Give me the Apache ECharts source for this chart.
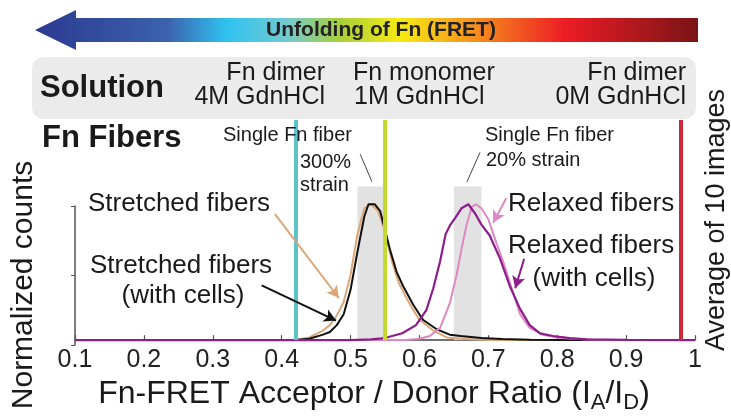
<!DOCTYPE html>
<html lang="en">
  <head>
    <meta charset="utf-8" />
    <script src="https://cdn.jsdelivr.net/npm/echarts@6.0.0/dist/echarts.min.js"></script>
  </head>
  <body style="margin: 0; background: #fff">
    <div id="container" style="width: 731px; height: 419px"></div>
    <script type="text/javascript">
      // Stretched fibers (tan) and stretched fibers with cells (black)
      const stretchedX = [0.10, 0.42, 0.44, 0.46, 0.47, 0.48, 0.49, 0.50, 0.51, 0.52, 0.53, 0.54, 0.55, 0.56, 0.57, 0.58, 0.59, 0.60, 0.62, 0.64, 0.66, 0.70, 1.00];
      const stretchedY = [0, 0, 0.02, 0.07, 0.11, 0.18, 0.28, 0.48, 0.78, 0.97, 1.0, 0.95, 0.80, 0.58, 0.42, 0.32, 0.23, 0.15, 0.07, 0.02, 0.01, 0, 0];
      const stretchedCellsX = [0.10, 0.42, 0.44, 0.46, 0.47, 0.48, 0.49, 0.50, 0.51, 0.52, 0.526, 0.535, 0.543, 0.55, 0.557, 0.567, 0.576, 0.591, 0.605, 0.625, 0.644, 0.66, 0.69, 0.72, 0.76, 0.80, 1.00];
      const stretchedCellsY = [0, 0, 0.01, 0.04, 0.06, 0.11, 0.19, 0.37, 0.65, 0.91, 1.0, 1.0, 0.95, 0.81, 0.67, 0.50, 0.40, 0.26, 0.15, 0.08, 0.04, 0.03, 0.015, 0.008, 0.003, 0, 0];

      // Relaxed fibers (pink) and relaxed fibers with cells (purple)
      const relaxedX = [0.10, 0.58, 0.60, 0.615, 0.63, 0.644, 0.654, 0.661, 0.669, 0.676, 0.682, 0.69, 0.70, 0.71, 0.722, 0.734, 0.746, 0.76, 0.779, 0.804, 0.85, 0.90, 1.00];
      const relaxedY = [0, 0, 0.01, 0.03, 0.09, 0.27, 0.48, 0.67, 0.86, 0.98, 1.0, 0.97, 0.89, 0.74, 0.57, 0.38, 0.19, 0.09, 0.04, 0.015, 0.003, 0, 0];
      const relaxedCellsX = [0.10, 0.50, 0.53, 0.55, 0.575, 0.595, 0.61, 0.62, 0.63, 0.638, 0.645, 0.652, 0.661, 0.671, 0.681, 0.69, 0.702, 0.717, 0.731, 0.746, 0.76, 0.775, 0.794, 0.818, 0.843, 0.90, 1.00];
      const relaxedCellsY = [0, 0, 0.005, 0.015, 0.05, 0.11, 0.22, 0.38, 0.58, 0.78, 0.85, 0.90, 0.97, 1.0, 0.93, 0.85, 0.77, 0.60, 0.40, 0.23, 0.11, 0.05, 0.03, 0.015, 0.005, 0.002, 0];

      // solution references (vertical lines) and single fiber ranges (gray bands)
      const solutionRatios = [0.42, 0.55, 0.98];
      const solutionColors = ["#5cc3cb", "#c3da2c", "#cc2a36"];
      const fiberBands = [[0.51, 0.55], [0.65, 0.69]];
      const fiberBandTop = 1.13;

      const font = "Liberation Sans, Arial, sans-serif";
      const xy = (xs, ys) => xs.map((x, i) => [x, ys[i]]);

      var dom = document.getElementById("container");
      var myChart = echarts.init(dom, null, { renderer: "canvas" });

      function txt(text, x, y, size, opts) {
        opts = opts || {};
        return {
          type: "text",
          x: x,
          y: y,
          rotation: opts.rotation || 0,
          z: 10,
          style: {
            text: text,
            fontSize: size,
            fontFamily: font,
            fontWeight: opts.bold ? "bold" : "normal",
            fill: opts.color || "#1a1a1a",
            textAlign: opts.align || "left",
            textVerticalAlign: "middle",
          },
        };
      }

      // annotation arrows, in data coordinates
      function arrow(from, to, color) {
        return [
          { coord: from, lineStyle: { color: color, width: 2 }, itemStyle: { color: color } },
          { coord: to },
        ];
      }

      var option = {
        animation: false,
        textStyle: { fontFamily: font },
        grid: [
          { left: 75, right: 36, top: 120, bottom: 74 },
          { left: 75, right: 36, top: 206, bottom: 74 },
        ],
        xAxis: [
          {
            type: "value",
            min: 0.1,
            max: 1,
            interval: 0.1,
            axisLine: { lineStyle: { color: "#444", width: 1.5 } },
            axisTick: { inside: true, length: 5, lineStyle: { color: "#555", width: 1.2 } },
            axisLabel: { fontSize: 25, color: "#222", margin: 8 },
            splitLine: { show: false },
            name: "Fn-FRET Acceptor / Donor Ratio (I{sub|A}/I{sub|D})",
            nameLocation: "middle",
            nameGap: 30,
            nameTextStyle: {
              fontSize: 32,
              color: "#1a1a1a",
              padding: [0, 22, 0, 0],
              rich: { sub: { fontSize: 22, padding: [18, 0, 0, 0], color: "#1a1a1a" } },
            },
          },
          { type: "value", gridIndex: 1, min: 0.1, max: 1, show: false },
        ],
        yAxis: [
          { type: "value", min: 0, max: 1.62, show: false },
          {
            type: "value",
            gridIndex: 1,
            min: 0,
            max: 1,
            interval: 0.5,
            axisLine: { show: true, lineStyle: { color: "#555", width: 1.5 } },
            axisTick: { show: true, inside: false, length: 4, lineStyle: { color: "#555" } },
            axisLabel: { show: false },
            splitLine: { show: false },
          },
        ],
        graphic: [
          {
            type: "polygon",
            z: 0,
            shape: {
              points: [[35, 30], [76, 10], [76, 18], [698, 18], [698, 42], [76, 42], [76, 50]],
            },
            style: {
              fill: {
                type: "linear", x: 0, y: 0, x2: 1, y2: 0,
                colorStops: [
                  { offset: 0, color: "#2b3990" },
                  { offset: 0.2, color: "#3b62ad" },
                  { offset: 0.29, color: "#2fc3f1" },
                  { offset: 0.38, color: "#74c9cf" },
                  { offset: 0.46, color: "#a8cf3a" },
                  { offset: 0.55, color: "#f7ea14" },
                  { offset: 0.66, color: "#f6921e" },
                  { offset: 0.8, color: "#ec1c24" },
                  { offset: 1, color: "#7a1416" },
                ],
              },
            },
          },
          txt("Unfolding of Fn (FRET)", 381, 30, 21, { bold: true, align: "center", color: "#222" }),
          {
            type: "rect",
            z: 0,
            shape: { x: 32, y: 57, width: 664, height: 62, r: 12 },
            style: { fill: "#ebebeb" },
          },
          txt("Solution", 40, 88, 31, { bold: true }),
          txt("Fn dimer", 325, 73, 25, { align: "right" }),
          txt("4M GdnHCl", 325, 97, 25, { align: "right" }),
          txt("Fn monomer", 353, 73, 25),
          txt("1M GdnHCl", 354, 97, 25),
          txt("Fn dimer", 686, 73, 25, { align: "right" }),
          txt("0M GdnHCl", 686, 97, 25, { align: "right" }),
          txt("Fn Fibers", 42, 138, 31, { bold: true }),
          txt("Single Fn fiber", 223, 135, 20),
          txt("300%", 300, 162, 20),
          txt("strain", 300, 185, 20),
          txt("Single Fn fiber", 485, 135, 20),
          txt("20% strain", 486, 160, 20),
          txt("Stretched fibers", 88, 204, 26),
          txt("Stretched fibers", 90, 266, 26),
          txt("(with cells)", 183, 296, 26, { align: "center" }),
          txt("Relaxed fibers", 508, 204, 26),
          txt("Relaxed fibers", 508, 246, 26),
          txt("(with cells)", 594, 279, 26, { align: "center" }),
          txt("Normalized counts", 24, 285, 30, { align: "center", rotation: Math.PI / 2 }),
          txt("Average of 10 images", 717, 220, 27, { align: "center", rotation: Math.PI / 2 }),
        ],
        series: [
          {
            // gray bands and solution reference lines
            type: "line",
            data: [],
            z: 1,
            markArea: {
              silent: true,
              itemStyle: { color: "#e2e2e2" },
              data: fiberBands.map((b) => [{ xAxis: b[0], yAxis: 0 }, { xAxis: b[1], yAxis: fiberBandTop }]),
            },
            markLine: {
              silent: true,
              symbol: ["none", "none"],
              label: { show: false },
              data: solutionRatios.map((v, i) => ({
                xAxis: v,
                lineStyle: { color: solutionColors[i], width: 4, type: "solid" },
              })),
            },
          },
          {
            name: "Stretched fibers",
            type: "line",
            z: 3,
            clip: false,
            showSymbol: false,
            lineStyle: { color: "#dba678", width: 2 },
            data: xy(stretchedX, stretchedY),
          },
          {
            name: "Stretched fibers (with cells)",
            type: "line",
            z: 3,
            clip: false,
            showSymbol: false,
            lineStyle: { color: "#111", width: 2 },
            data: xy(stretchedCellsX, stretchedCellsY),
          },
          {
            name: "Relaxed fibers",
            type: "line",
            z: 3,
            clip: false,
            showSymbol: false,
            lineStyle: { color: "#dd88c3", width: 2 },
            data: xy(relaxedX, relaxedY),
          },
          {
            name: "Relaxed fibers (with cells)",
            type: "line",
            z: 3,
            clip: false,
            showSymbol: false,
            lineStyle: { color: "#8c1d8c", width: 2.2 },
            data: xy(relaxedCellsX, relaxedCellsY),
          },
          {
            // annotation arrows and leader lines
            type: "line",
            data: [],
            z: 4,
            markLine: {
              silent: true,
              symbol: ["none", "arrow"],
              symbolSize: [10, 12],
              label: { show: false },
              lineStyle: { type: "solid" },
              data: [
                arrow([0.39, 0.929], [0.483, 0.31], "#dba678"),
                arrow([0.371, 0.403], [0.479, 0.144], "#111"),
                arrow([0.726, 1.044], [0.707, 0.864], "#dd88c3"),
                arrow([0.752, 0.598], [0.739, 0.382], "#8c1d8c"),
              ],
            },
          },
          {
            type: "line",
            data: [],
            z: 4,
            markLine: {
              silent: true,
              symbol: ["none", "none"],
              label: { show: false },
              lineStyle: { type: "solid", color: "#444", width: 1 },
              data: [
                [{ coord: [0.514, 1.368] }, { coord: [0.531, 1.166] }],
                [{ coord: [0.688, 1.382] }, { coord: [0.669, 1.166] }],
              ],
            },
          },
        ],
      };

      myChart.setOption(option);
      window.addEventListener("resize", myChart.resize);
    </script>
  </body>
</html>
